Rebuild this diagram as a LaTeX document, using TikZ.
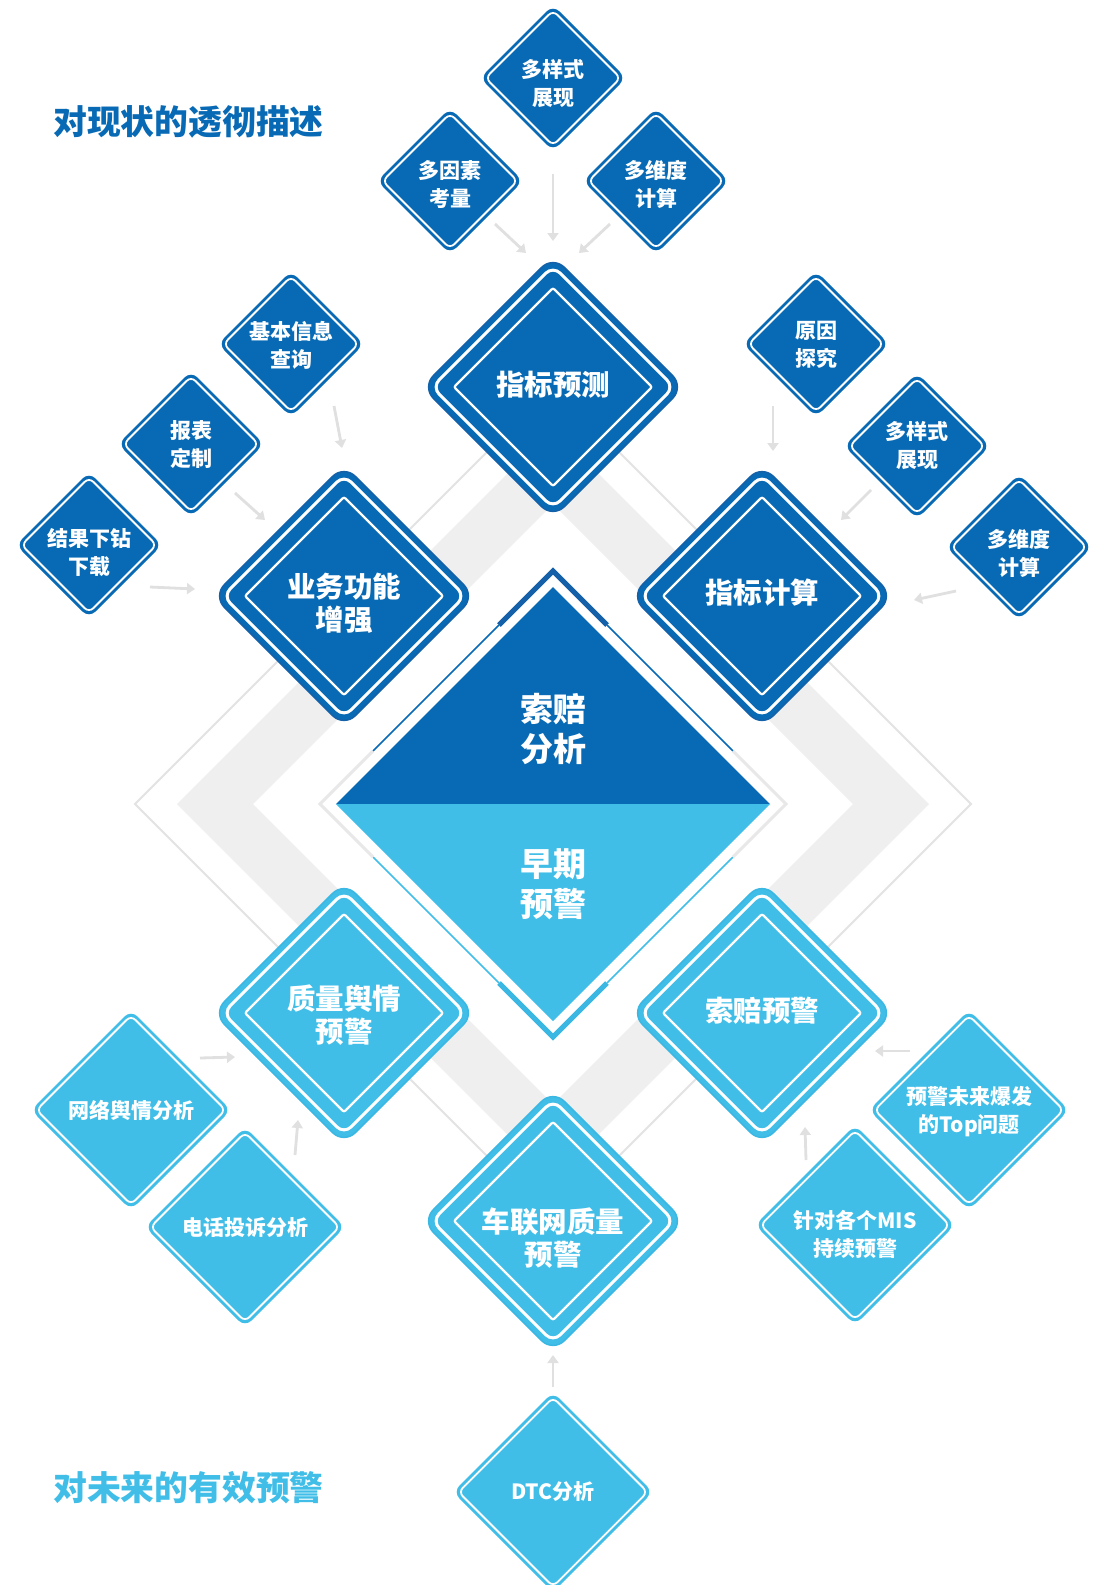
\documentclass[tikz,border=0pt]{standalone}
\usepackage{fontspec}
\setmainfont{Noto Sans CJK SC}
\usetikzlibrary{shapes.geometric,arrows.meta,calc}
\definecolor{dblue}{HTML}{086AB4}
\definecolor{dbluerim}{HTML}{1461A9}
\definecolor{lblue}{HTML}{40BEE8}
\definecolor{lbluerim}{HTML}{3AB8E3}
\definecolor{bandgray}{HTML}{EFEFEF}
\definecolor{linegray}{HTML}{E3E3E3}
\definecolor{framegray}{HTML}{E8E8E8}
\definecolor{arrowgray}{HTML}{E0E0E0}
\tikzset{
  bigtxt/.style={text=white, font=\fontsize{28.5}{33}\selectfont\bfseries, align=center, inner sep=0pt},
  smtxt/.style={text=white, font=\fontsize{21}{28}\selectfont\bfseries, align=center, inner sep=0pt},
  ctxt/.style={text=white, font=\fontsize{33}{40}\selectfont\bfseries, align=center, inner sep=0pt},
  ttl/.style={anchor=west, font=\fontsize{33.8}{36}\selectfont\bfseries, inner sep=0pt},
  arr/.style={draw=arrowgray, line width=2.8pt, -{Triangle[length=8pt,width=11pt]}},
  dia/.style={diamond, aspect=1, inner sep=0pt, outer sep=0pt},
}
% ring: x, y, half, options
\newcommand\dring[4]{\draw[#4] ({#1-(#3)},#2) -- (#1,{#2-(#3)}) -- ({#1+(#3)},#2) -- (#1,{#2+(#3)}) -- cycle;}
% big node: name, x, y, fill, rim, text y, text
\newcommand\bignode[7]{%
  \node[dia, minimum width=262pt, minimum height=262pt, fill=#4, draw=#5, line width=1.5pt, rounded corners=16pt] (#1) at (#2,#3) {};
  \dring{#2}{#3}{121}{white, line width=3pt, rounded corners=10pt}
  \dring{#2}{#3}{99}{white, line width=2.2pt, rounded corners=2pt}
  \node[bigtxt] (#1-t) at (#2,#6) {#7};
}
% small node: name, x, y, half, fill, text y, text
\newcommand\smnode[7]{%
  \node[dia, minimum width={2*(#4)}, minimum height={2*(#4)}, fill=#5, rounded corners=9pt] (#1) at (#2,#3) {};
  \dring{#2}{#3}{#4-5.5}{white, line width=1.8pt, rounded corners=6pt}
  \node[smtxt] (#1-t) at (#2,#6) {#7};
}
\begin{document}
\begin{tikzpicture}[x=1pt,y=-1pt]
\fill[white] (0,0) rectangle (1106,1585);
\useasboundingbox (0,0) rectangle (1106,1585);
% background diamonds
\draw[linegray, line width=2pt] (135,804) -- (553,386) -- (971,804) -- (553,1222) -- cycle;
\fill[bandgray, even odd rule] (177,804) -- (553,428) -- (929,804) -- (553,1180) -- cycle
  (253,804) -- (553,504) -- (853,804) -- (553,1104) -- cycle;
% central frame
\draw[dblue, line width=1.6pt] (373,751) -- (499,625) (607,625) -- (733,751);
\draw[dbluerim, line width=5pt] (499,625) -- (553,571) -- (607,625);
\draw[lblue, line width=1.6pt] (373,857) -- (499,983) (607,983) -- (733,857);
\draw[lbluerim, line width=5pt] (499,983) -- (553,1037) -- (607,983);
\draw[framegray, line width=3pt] (373,751) -- (320,804) -- (373,857);
\draw[framegray, line width=3pt] (733,751) -- (786,804) -- (733,857);
% central diamond
\fill[dblue] (336,804) -- (553,587) -- (770,804) -- cycle;
\fill[lblue] (336,804) -- (553,1021) -- (770,804) -- cycle;
\node[ctxt] (ctop) at (553,729) {索赔\\分析};
\node[ctxt] (cbot) at (553,884) {早期\\预警};
% big nodes
\bignode{b1}{553}{387}{dblue}{dbluerim}{385}{指标预测}
\bignode{b2}{344}{596}{dblue}{dbluerim}{603}{业务功能\\增强}
\bignode{b3}{762}{596}{dblue}{dbluerim}{593}{指标计算}
\bignode{b4}{344}{1013}{lblue}{lbluerim}{1015}{质量舆情\\预警}
\bignode{b5}{762}{1013}{lblue}{lbluerim}{1011}{索赔预警}
\bignode{b6}{553}{1221}{lblue}{lbluerim}{1238}{车联网质量\\预警}
% small nodes top
\smnode{t1}{553}{78}{73}{dblue}{84}{多样式\\展现}
\smnode{t2}{450}{181}{73}{dblue}{184}{多因素\\考量}
\smnode{t3}{656}{181}{73}{dblue}{184}{多维度\\计算}
\smnode{l1}{291}{344}{73}{dblue}{345}{基本信息\\查询}
\smnode{l2}{191}{444}{73}{dblue}{445}{报表\\定制}
\smnode{l3}{89}{545}{73}{dblue}{553}{结果下钻\\下载}
\smnode{r1}{816}{344}{73}{dblue}{345}{原因\\探究}
\smnode{r2}{917}{446}{73}{dblue}{446}{多样式\\展现}
\smnode{r3}{1019}{547}{73}{dblue}{553}{多维度\\计算}
% small nodes bottom
\smnode{ll1}{131}{1110}{100}{lblue}{1110}{网络舆情分析}
\smnode{ll2}{245}{1227}{100}{lblue}{1228}{电话投诉分析}
\smnode{lr1}{969}{1110}{100}{lblue}{1112}{预警未来爆发\\的Top问题}
\smnode{lr2}{855}{1225}{100}{lblue}{1234}{针对各个MIS\\持续预警}
\smnode{dtc}{553}{1492}{100}{lblue}{1492}{DTC分析}
% arrows
\draw[arr] ($(t2)+(45,43)$) -- ($(b1)+(-27,-134)$);
\draw[arr] ($(t1)+(0,96)$) -- ($(b1)+(0,-146)$);
\draw[arr] ($(t3)+(-46,43)$) -- ($(b1)+(26,-134)$);
\draw[arr] ($(l1)+(43,62)$) -- ($(b2)+(-2,-148)$);
\draw[arr] ($(l2)+(44,49)$) -- ($(b2)+(-79,-76)$);
\draw[arr] ($(l3)+(61,42)$) -- ($(b2)+(-149,-7)$);
\draw[arr] ($(r1)+(-43,62)$) -- ($(b3)+(11,-145)$);
\draw[arr] ($(r2)+(-46,44)$) -- ($(b3)+(79,-76)$);
\draw[arr] ($(r3)+(-63,44)$) -- ($(b3)+(152,4)$);
\draw[arr] ($(ll1)+(69,-52)$) -- ($(b4)+(-109,44)$);
\draw[arr] ($(ll2)+(50,-72)$) -- ($(b4)+(-46,107)$);
\draw[arr] ($(lr1)+(-59,-59)$) -- ($(b5)+(113,38)$);
\draw[arr] ($(lr2)+(-49,-65)$) -- ($(b5)+(43,114)$);
\draw[arr] ($(dtc)+(0,-105)$) -- ($(b6)+(0,134)$);
% titles
\node[ttl, text=dblue] (title1) at (53,122) {对现状的透彻描述};
\node[ttl, text=lblue] (title2) at (53,1488) {对未来的有效预警};
\end{tikzpicture}
\end{document}
